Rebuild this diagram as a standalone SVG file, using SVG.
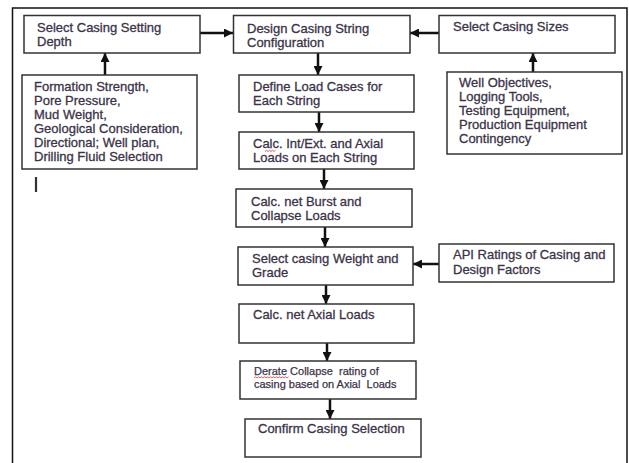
<svg xmlns="http://www.w3.org/2000/svg" width="629" height="463" viewBox="0 0 629 463">
<defs>
<style>
.box{fill:#fff;stroke:#333;stroke-width:1.5}
.t{font-family:"Liberation Sans",Arial,sans-serif;font-size:13px;fill:#3b3448;stroke:#3b3448;stroke-width:0.3}
.s{font-size:11px;stroke-width:0.25}
.c{stroke:#111;stroke-width:2.5;fill:none;marker-end:url(#ah)}
.sq{stroke:#e03030;stroke-width:0.8;fill:none}
</style>
<marker id="ah" markerUnits="userSpaceOnUse" markerWidth="9" markerHeight="9" viewBox="0 0 10 10" refX="10" refY="5" orient="auto">
<path d="M0,0 L10,5 L0,10 Z" fill="#111"/>
</marker>
</defs>
<rect x="0" y="0" width="629" height="463" fill="#fff"/>
<rect x="12.5" y="8" width="614.5" height="470" fill="none" stroke="#111" stroke-width="1.5"/>

<g id="connectors">
<line class="c" x1="200" y1="33" x2="233" y2="33"/>
<line class="c" x1="439" y1="33" x2="410" y2="33"/>
<line class="c" x1="105" y1="75" x2="105" y2="53"/>
<line class="c" x1="533" y1="72" x2="533" y2="53"/>
<line class="c" x1="318" y1="53" x2="318" y2="75"/>
<line class="c" x1="319" y1="112" x2="319" y2="132"/>
<line class="c" x1="324" y1="169" x2="324" y2="189"/>
<line class="c" x1="325" y1="227" x2="325" y2="247"/>
<line class="c" x1="326" y1="285" x2="326" y2="304"/>
<line class="c" x1="327" y1="343" x2="327" y2="361"/>
<line class="c" x1="330" y1="399" x2="330" y2="419"/>
<line class="c" x1="439" y1="264" x2="413" y2="264"/>
</g>

<g id="n1">
<rect class="box" x="24" y="15.5" width="176" height="37.5"/>
<text class="t" x="37" y="32">Select Casing Setting</text>
<text class="t" x="37" y="46">Depth</text>
</g>
<g id="n2">
<rect class="box" x="233.5" y="15.5" width="176.5" height="37.5"/>
<text class="t" x="247" y="33">Design Casing String</text>
<text class="t" x="247" y="47">Configuration</text>
</g>
<g id="n3">
<rect class="box" x="439" y="15.5" width="176" height="37.5"/>
<text class="t" x="453" y="31">Select Casing Sizes</text>
</g>
<g id="n4">
<rect class="box" x="22" y="75" width="175" height="94"/>
<text class="t" x="34" y="91">Formation Strength,</text>
<text class="t" x="34" y="105">Pore Pressure,</text>
<text class="t" x="34" y="119">Mud Weight,</text>
<text class="t" x="34" y="133">Geological Consideration,</text>
<text class="t" x="34" y="147">Directional; Well plan,</text>
<text class="t" x="34" y="161">Drilling Fluid Selection</text>
</g>
<g id="mark">
<line x1="36" y1="177" x2="36" y2="192" stroke="#333" stroke-width="2.2"/>
</g>
<g id="n5">
<rect class="box" x="447" y="72" width="175" height="82"/>
<text class="t" x="459" y="87">Well Objectives,</text>
<text class="t" x="459" y="101">Logging Tools,</text>
<text class="t" x="459" y="115">Testing Equipment,</text>
<text class="t" x="459" y="129">Production Equipment</text>
<text class="t" x="459" y="143">Contingency</text>
</g>
<g id="n6">
<rect class="box" x="239" y="75" width="175" height="37"/>
<text class="t" x="253" y="90.5">Define Load Cases for</text>
<text class="t" x="253" y="104.5">Each String</text>
</g>
<g id="n7">
<rect class="box" x="239" y="132" width="175" height="37"/>
<text class="t" x="253" y="148">Calc. Int/Ext. and Axial</text>
<text class="t" x="253" y="162">Loads on Each String</text>
<path class="sq" d="M265,151.5 l1.5,-1.2 l1.5,1.2 l1.5,-1.2 l1.5,1.2 l1.5,-1.2 l1.5,1.2 l1.5,-1.2"/>
</g>
<g id="n8">
<rect class="box" x="236" y="189" width="176" height="38"/>
<text class="t" x="251" y="206">Calc. net Burst and</text>
<text class="t" x="251" y="220">Collapse Loads</text>
</g>
<g id="n9">
<rect class="box" x="238" y="247" width="175" height="38"/>
<text class="t" x="252" y="263">Select casing Weight and</text>
<text class="t" x="252" y="277">Grade</text>
</g>
<g id="n10">
<rect class="box" x="439" y="244" width="175" height="38"/>
<text class="t" x="453" y="259">API Ratings of Casing and</text>
<text class="t" x="453" y="274">Design Factors</text>
</g>
<g id="n11">
<rect class="box" x="239" y="304" width="175" height="39"/>
<text class="t" x="253" y="319">Calc. net Axial Loads</text>
</g>
<g id="n12">
<rect class="box" x="240" y="361" width="176" height="38"/>
<text class="t s" x="254" y="375" xml:space="preserve">Derate Collapse  rating of</text>
<text class="t s" x="254" y="388" xml:space="preserve">casing based on Axial  Loads</text>
<path class="sq" d="M254,378 l1.5,-1.2 l1.5,1.2 l1.5,-1.2 l1.5,1.2 l1.5,-1.2 l1.5,1.2 l1.5,-1.2 l1.5,1.2 l1.5,-1.2 l1.5,1.2 l1.5,-1.2 l1.5,1.2 l1.5,-1.2 l1.5,1.2 l1.5,-1.2 l1.5,1.2 l1.5,-1.2 l1.5,1.2 l1.5,-1.2 l1.5,1.2 l1.5,-1.2 l1.5,1.2 l1.5,-1.2"/>
</g>
<g id="n13">
<rect class="box" x="245" y="419" width="176" height="38"/>
<text class="t" x="258" y="433">Confirm Casing Selection</text>
</g>
</svg>
